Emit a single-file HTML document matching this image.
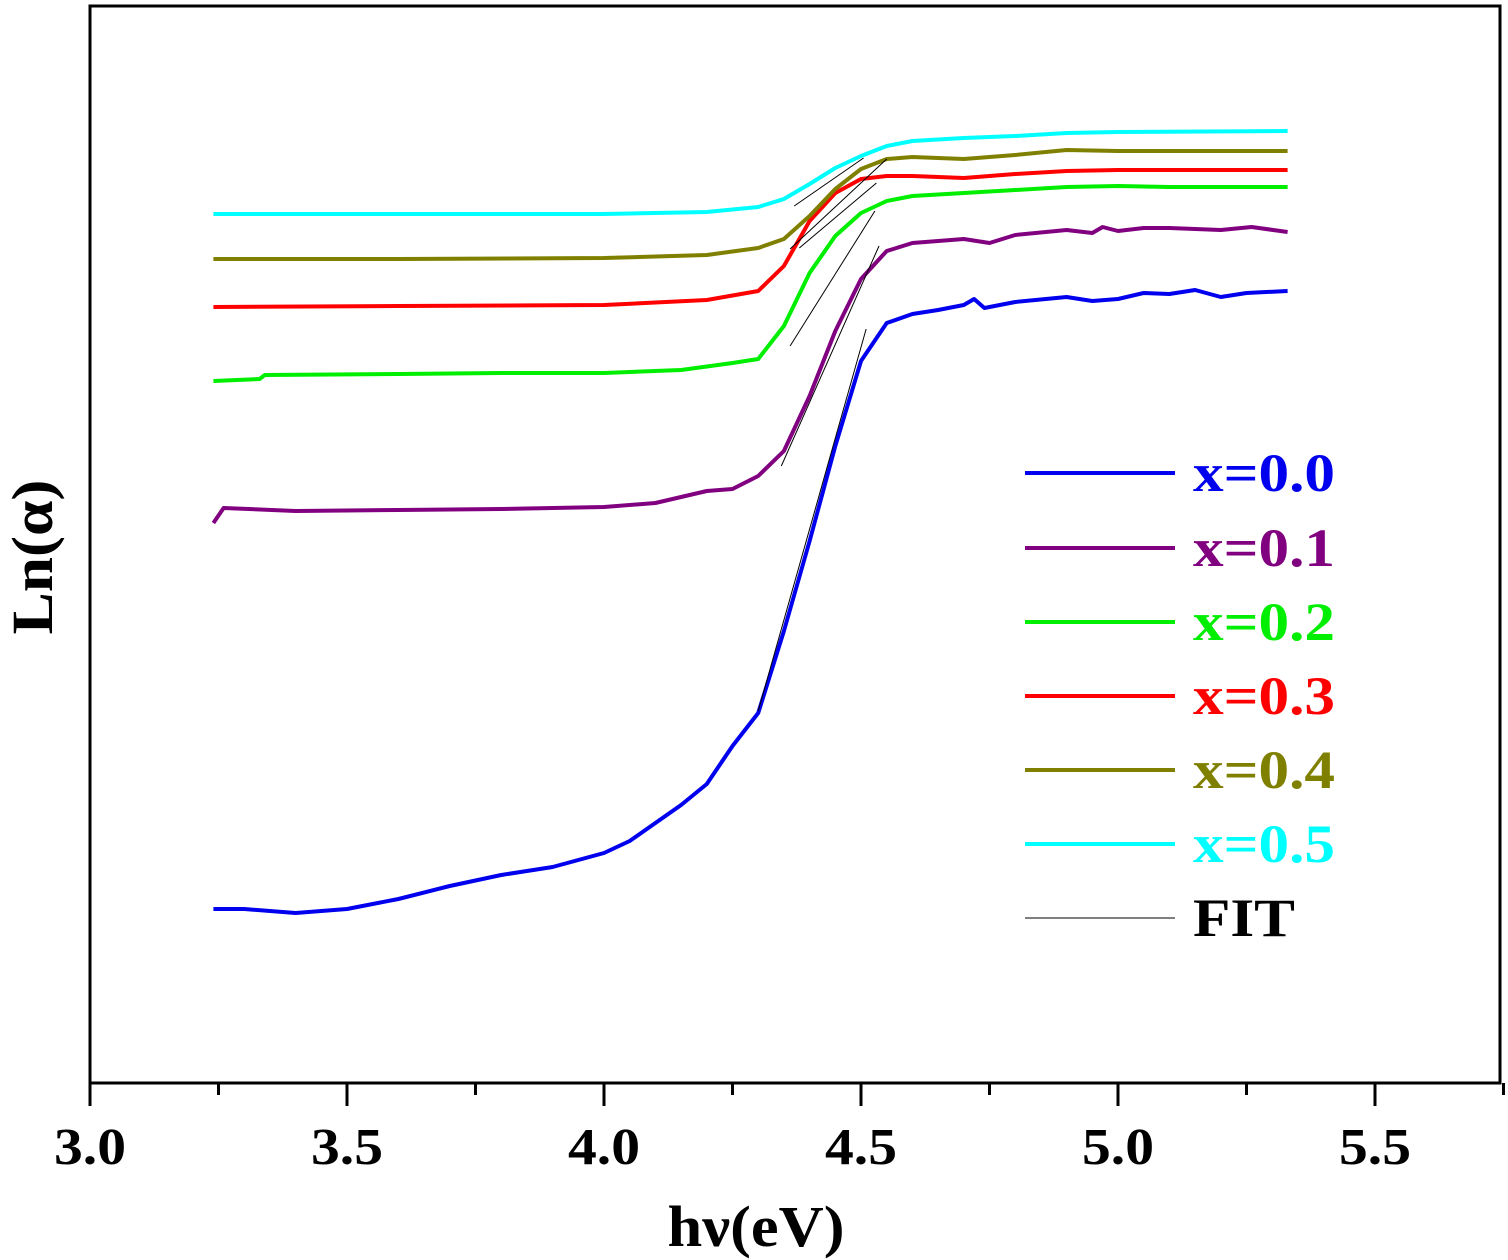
<!DOCTYPE html>
<html><head><meta charset="utf-8">
<style>
html,body{margin:0;padding:0;background:#fff;}
svg{display:block;font-family:"Liberation Serif",serif;font-weight:bold;}
</style></head>
<body>
<svg id="chart" width="1508" height="1260" viewBox="0 0 1508 1260">
<g id="marks"></g>
<g id="axes"></g>
<g id="legend"></g>
</svg>
<script>
const xTicks=[3.0,3.5,4.0,4.5,5.0,5.5];
const xTickLabels=["3.0","3.5","4.0","4.5","5.0","5.5"];
const seriesNames=["x=0.0","x=0.1","x=0.2","x=0.3","x=0.4","x=0.5"];
const seriesColors=["#0000ee","#800080","#00ee00","#ff0000","#808000","#00ffff"];
const x0=[3.24,3.3,3.4,3.5,3.6,3.7,3.8,3.9,4.0,4.05,4.1,4.15,4.2,4.25,4.3,4.35,4.4,4.45,4.5,4.55,4.6,4.65,4.7,4.72,4.74,4.8,4.9,4.95,5.0,5.05,5.1,5.15,5.2,5.25,5.33];
const y0=[17.4,17.4,17.0,17.4,18.4,19.7,20.8,21.6,23.0,24.2,26.0,27.8,29.9,33.7,37.0,45.2,54.2,63.7,72.2,76.0,76.9,77.3,77.8,78.4,77.5,78.1,78.6,78.2,78.4,79.0,78.9,79.3,78.6,79.0,79.2];
const x1=[3.24,3.26,3.4,3.6,3.8,4.0,4.1,4.2,4.25,4.3,4.35,4.4,4.45,4.5,4.55,4.6,4.7,4.75,4.8,4.9,4.95,4.97,5.0,5.05,5.1,5.2,5.26,5.33];
const y1=[56.0,57.5,57.2,57.3,57.4,57.6,58.0,59.2,59.4,60.7,63.2,68.7,75.2,80.4,83.2,84.0,84.4,84.0,84.8,85.3,85.0,85.6,85.2,85.5,85.5,85.3,85.6,85.1];
const x2=[3.24,3.33,3.34,3.6,3.8,4.0,4.15,4.25,4.3,4.35,4.4,4.45,4.5,4.55,4.6,4.7,4.8,4.9,5.0,5.1,5.33];
const y2=[70.2,70.4,70.8,70.9,71.0,71.0,71.3,72.0,72.4,75.7,81.0,84.7,87.0,88.2,88.7,89.0,89.3,89.6,89.7,89.6,89.6];
const x3=[3.24,3.6,4.0,4.2,4.3,4.35,4.4,4.45,4.5,4.55,4.6,4.7,4.8,4.9,5.0,5.33];
const y3=[77.6,77.7,77.8,78.3,79.2,81.7,86.2,89.0,90.4,90.7,90.7,90.5,90.9,91.2,91.3,91.3];
const x4=[3.24,3.6,4.0,4.2,4.3,4.35,4.4,4.45,4.5,4.55,4.6,4.7,4.8,4.9,5.0,5.33];
const y4=[82.4,82.4,82.5,82.8,83.5,84.4,86.7,89.4,91.4,92.4,92.6,92.4,92.8,93.3,93.2,93.2];
const x5=[3.24,4.0,4.2,4.3,4.35,4.4,4.45,4.5,4.55,4.6,4.7,4.8,4.9,5.0,5.33];
const y5=[86.9,86.9,87.1,87.6,88.4,89.9,91.5,92.7,93.7,94.2,94.5,94.7,95.0,95.1,95.2];
const fitX=[[4.30,4.51],[4.345,4.535],[4.362,4.527],[4.38,4.53],[4.362,4.55],[4.37,4.505]];
const fitY=[[37.2,75.4],[61.7,83.7],[73.7,87.2],[83.5,90.0],[83.4,92.4],[87.7,92.5]];
const xs=[x0,x1,x2,x3,x4,x5], ys=[y0,y1,y2,y3,y4,y5];

const NS="http://www.w3.org/2000/svg";
const L=90,R=1500,T=6,B=1083;
const sx=v=>L+(v-3)*514;
const sy=v=>B-v*10;
function mk(tag,attrs,parent){const e=document.createElementNS(NS,tag);for(const k in attrs)e.setAttribute(k,attrs[k]);parent.appendChild(e);return e;}
const marks=document.getElementById('marks'),axes=document.getElementById('axes'),legend=document.getElementById('legend');

for(let s=0;s<6;s++){
  const d=xs[s].map((x,i)=>(i?'L':'M')+sx(x).toFixed(1)+' '+sy(ys[s][i]).toFixed(1)).join(' ');
  const p=mk('path',{d:d,fill:'none',stroke:seriesColors[s],'stroke-width':4,'stroke-linejoin':'round'},marks);
  
  
}
for(let s=0;s<6;s++){
  const f=mk('line',{x1:sx(fitX[s][0]),y1:sy(fitY[s][0]),x2:sx(fitX[s][1]),y2:sy(fitY[s][1]),stroke:'#000','stroke-width':1},marks);
  
  
}
const frame=mk('rect',{x:L,y:T,width:R-L,height:B-T,fill:'none',stroke:'#000','stroke-width':3},axes);


for(let v=3.0;v<=5.751;v+=0.25){
  const major=Math.abs(v*2-Math.round(v*2))<1e-6;
  const t=mk('line',{x1:sx(v),x2:sx(v),y1:B,y2:B+(major?23:12),stroke:'#000','stroke-width':3},axes);
  
  
}
xTicks.forEach((v,i)=>{
  const t=mk('text',{x:sx(v),y:1164,'text-anchor':'middle','font-size':52,textLength:72,lengthAdjust:'spacingAndGlyphs'},axes);
  t.textContent=xTickLabels[i];
  
  
});
const xt=mk('text',{x:756,y:1246,'text-anchor':'middle','font-size':58,textLength:177,lengthAdjust:'spacingAndGlyphs'},axes);
xt.textContent='hν(eV)';


const yt=mk('text',{x:0,y:0,'text-anchor':'middle','font-size':58,textLength:155,lengthAdjust:'spacingAndGlyphs',transform:'translate(52,557) rotate(-90)'},axes);
yt.textContent='Ln(α)';



const legY=[473,548,622,696,770,844,918];
for(let i=0;i<7;i++){
  const isFit=i===6;
  const ln=mk('line',{x1:1025,x2:1175,y1:legY[i],y2:legY[i],stroke:isFit?'#000':seriesColors[i],'stroke-width':isFit?1:4},legend);
  
  
  const tx=mk('text',{x:1193,y:legY[i]+18,'font-size':54,fill:isFit?'#000':seriesColors[i],textLength:isFit?102:142,lengthAdjust:'spacingAndGlyphs'},legend);
  tx.textContent=isFit?'FIT':seriesNames[i];
  
  
}
</script>
</body></html>
